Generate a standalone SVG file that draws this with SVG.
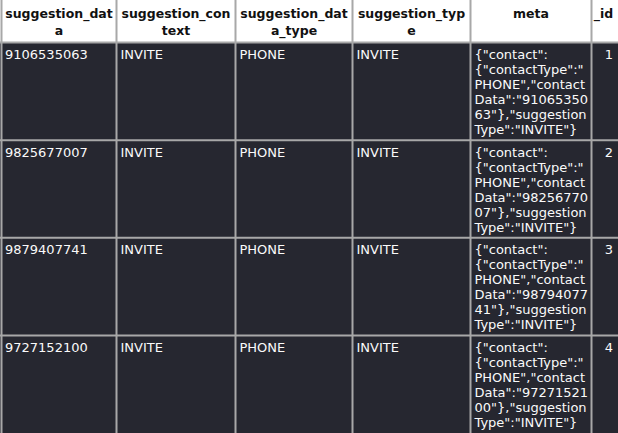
<svg xmlns="http://www.w3.org/2000/svg" width="618" height="433" viewBox="0 0 618 433">
<style>
.hd{font-family:"DejaVu Sans",sans-serif;font-weight:bold;font-size:12.5px;fill:#111;text-anchor:middle}
.tx{font-family:"DejaVu Sans",sans-serif;font-size:13px;fill:#fafafa}
.num{text-anchor:end}
.grid{stroke:#a8a8a8;stroke-width:2;fill:none}
</style>
<rect x="0" y="0" width="618" height="433" fill="#ffffff"/>
<rect x="0" y="42.5" width="618" height="391" fill="#262730"/>
<g id="header">
<text class="hd" x="59" y="17.5">suggestion_dat</text>
<text class="hd" x="59" y="34.5">a</text>
<text class="hd" x="176" y="17.5">suggestion_con</text>
<text class="hd" x="176" y="34.5">text</text>
<text class="hd" x="294" y="17.5">suggestion_dat</text>
<text class="hd" x="294" y="34.5">a_type</text>
<text class="hd" x="411.5" y="17.5">suggestion_typ</text>
<text class="hd" x="411.5" y="34.5">e</text>
<text class="hd" x="531" y="17.5">meta</text>
<text class="hd" x="603.5" y="17.5">_id</text>
</g>
<g id="row1">
<text class="tx" x="5" y="58.8">9106535063</text>
<text class="tx" x="120.5" y="58.8">INVITE</text>
<text class="tx" x="239.5" y="58.8">PHONE</text>
<text class="tx" x="356.5" y="58.8">INVITE</text>
<text class="tx" x="474.5" y="58.8">{"contact":</text>
<text class="tx" x="474.5" y="73.8">{"contactType":"</text>
<text class="tx" x="474.5" y="88.8">PHONE","contact</text>
<text class="tx" x="474.5" y="103.8">Data":"91065350</text>
<text class="tx" x="474.5" y="118.8">63"},"suggestion</text>
<text class="tx" x="474.5" y="133.8">Type":"INVITE"}</text>
<text class="tx num" x="613" y="58.8">1</text>
</g>
<g id="row2">
<text class="tx" x="5" y="156.5">9825677007</text>
<text class="tx" x="120.5" y="156.5">INVITE</text>
<text class="tx" x="239.5" y="156.5">PHONE</text>
<text class="tx" x="356.5" y="156.5">INVITE</text>
<text class="tx" x="474.5" y="156.5">{"contact":</text>
<text class="tx" x="474.5" y="171.5">{"contactType":"</text>
<text class="tx" x="474.5" y="186.5">PHONE","contact</text>
<text class="tx" x="474.5" y="201.5">Data":"98256770</text>
<text class="tx" x="474.5" y="216.5">07"},"suggestion</text>
<text class="tx" x="474.5" y="231.5">Type":"INVITE"}</text>
<text class="tx num" x="613" y="156.5">2</text>
</g>
<g id="row3">
<text class="tx" x="5" y="254.1">9879407741</text>
<text class="tx" x="120.5" y="254.1">INVITE</text>
<text class="tx" x="239.5" y="254.1">PHONE</text>
<text class="tx" x="356.5" y="254.1">INVITE</text>
<text class="tx" x="474.5" y="254.1">{"contact":</text>
<text class="tx" x="474.5" y="269.1">{"contactType":"</text>
<text class="tx" x="474.5" y="284.1">PHONE","contact</text>
<text class="tx" x="474.5" y="299.1">Data":"98794077</text>
<text class="tx" x="474.5" y="314.1">41"},"suggestion</text>
<text class="tx" x="474.5" y="329.1">Type":"INVITE"}</text>
<text class="tx num" x="613" y="254.1">3</text>
</g>
<g id="row4">
<text class="tx" x="5" y="351.8">9727152100</text>
<text class="tx" x="120.5" y="351.8">INVITE</text>
<text class="tx" x="239.5" y="351.8">PHONE</text>
<text class="tx" x="356.5" y="351.8">INVITE</text>
<text class="tx" x="474.5" y="351.8">{"contact":</text>
<text class="tx" x="474.5" y="366.8">{"contactType":"</text>
<text class="tx" x="474.5" y="381.8">PHONE","contact</text>
<text class="tx" x="474.5" y="396.8">Data":"97271521</text>
<text class="tx" x="474.5" y="411.8">00"},"suggestion</text>
<text class="tx" x="474.5" y="426.8">Type":"INVITE"}</text>
<text class="tx num" x="613" y="351.8">4</text>
</g>
<g id="grid" class="grid">
<line x1="1.5" y1="0" x2="1.5" y2="433"/>
<line x1="116.5" y1="0" x2="116.5" y2="433"/>
<line x1="235.5" y1="0" x2="235.5" y2="433"/>
<line x1="352.5" y1="0" x2="352.5" y2="433"/>
<line x1="470.5" y1="0" x2="470.5" y2="433"/>
<line x1="591.5" y1="0" x2="591.5" y2="433"/>
<line x1="0" y1="42.5" x2="618" y2="42.5"/>
<line x1="0" y1="140.2" x2="618" y2="140.2"/>
<line x1="0" y1="237.8" x2="618" y2="237.8"/>
<line x1="0" y1="335.5" x2="618" y2="335.5"/>
</g>
</svg>
